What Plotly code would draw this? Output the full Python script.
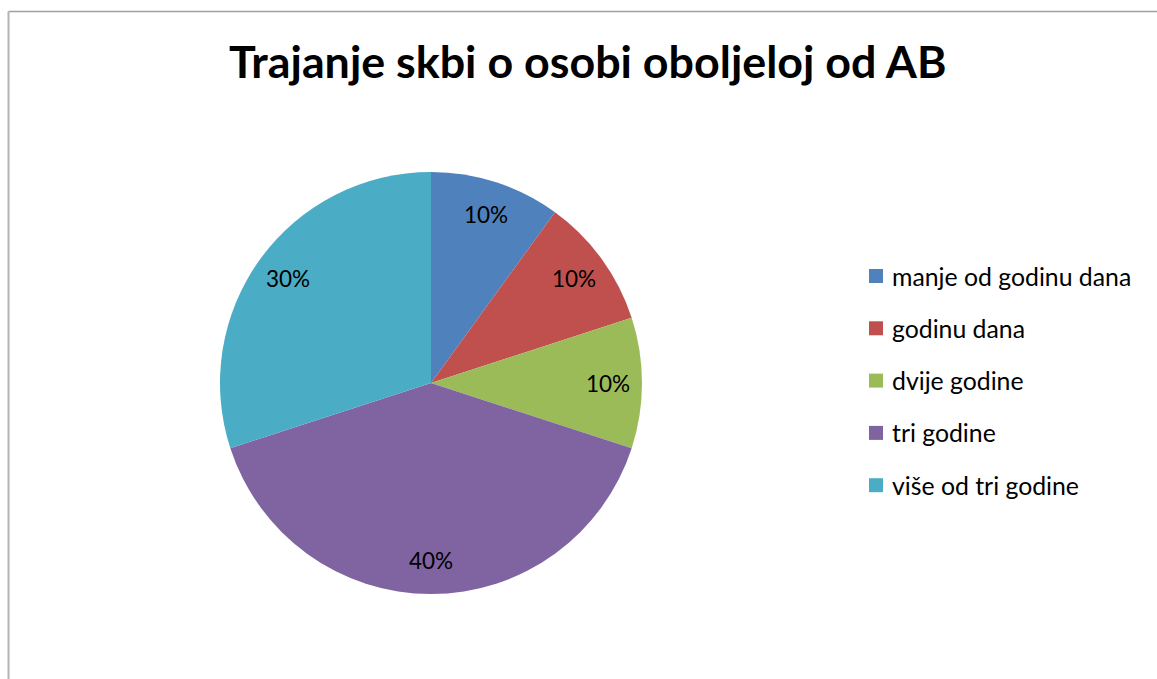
import math
import plotly.graph_objects as go

categories = ["manje od godinu dana", "godinu dana", "dvije godine", "tri godine", "više od tri godine"]
values = [10, 10, 10, 40, 30]
colors = ["#4F81BD", "#C0504D", "#9BBB59", "#8064A2", "#4BACC6"]
title_text = "Trajanje skbi o osobi oboljeloj od AB"

W, H = 1157, 679
cx, cy, R = 431, 383, 211  # pie centre / radius in pixels

fig = go.Figure(go.Pie(
    labels=categories, values=values, sort=False, direction="clockwise", rotation=0,
    marker=dict(colors=colors, line=dict(width=0)),
    textinfo="none", hoverinfo="label+percent", showlegend=False,
    domain=dict(x=[(cx - R) / W, (cx + R) / W], y=[(H - cy - R) / H, (H - cy + R) / H]),
))

annotations = []
total = sum(values)
cum = 0
for v in values:
    mid = (cum + v / 2) / total * 2 * math.pi
    cum += v
    r = 0.84 * R
    px = cx + r * math.sin(mid)
    py = cy - r * math.cos(mid)
    annotations.append(dict(x=px / W, y=1 - py / H, xref="paper", yref="paper",
                            xanchor="center", yanchor="middle",
                            text=f"{round(v / total * 100)}%", showarrow=False,
                            font=dict(family="Lato", size=22.5, color="#000000")))

shapes = []
leg_x, leg_y0, leg_dy, sq = 869, 276, 52.3, 14
for i, (lab, col) in enumerate(zip(categories, colors)):
    yc = leg_y0 + i * leg_dy
    shapes.append(dict(type="rect", xref="paper", yref="paper",
                       x0=leg_x / W, x1=(leg_x + sq) / W,
                       y0=1 - (yc + sq / 2) / H, y1=1 - (yc - sq / 2) / H,
                       fillcolor=col, line=dict(width=0)))
    annotations.append(dict(x=(leg_x + 21) / W, y=1 - yc / H, xref="paper", yref="paper",
                            text=lab, showarrow=False, xanchor="left", yanchor="middle",
                            font=dict(family="Lato", size=24.8, color="#000000")))

# chart border (top and left edges visible)
shapes.append(dict(type="line", xref="paper", yref="paper", x0=8.5 / W, x1=1.0,
                   y0=1 - 11.5 / H, y1=1 - 11.5 / H, line=dict(color="#a0a0a0", width=1.5)))
shapes.append(dict(type="line", xref="paper", yref="paper", x0=8.5 / W, x1=8.5 / W,
                   y0=1 - 11.5 / H, y1=0, line=dict(color="#b4b4b4", width=2)))

annotations.append(dict(x=587 / W, y=1 - 61 / H, xref="paper", yref="paper",
                        text=f"<b>{title_text}</b>", showarrow=False,
                        xanchor="center", yanchor="middle",
                        font=dict(family="Lato", size=44.8, color="#000000")))

fig.update_layout(width=W, height=H, margin=dict(l=0, r=0, t=0, b=0),
                  paper_bgcolor="white", plot_bgcolor="white",
                  annotations=annotations, shapes=shapes)
fig.write_html("out.html")
